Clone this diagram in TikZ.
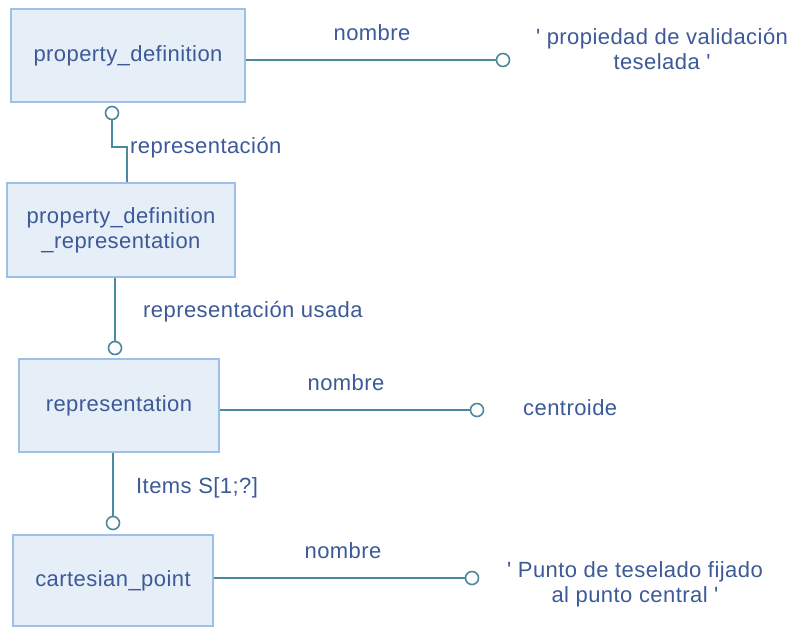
\documentclass[tikz,border=0pt]{standalone}
\usepackage{fontspec}
\setmainfont{Liberation Sans}[LetterSpace=2]
\definecolor{boxfill}{RGB}{230,238,248}
\definecolor{boxline}{RGB}{156,192,232}
\definecolor{conn}{RGB}{74,138,156}
\definecolor{txt}{RGB}{60,90,152}
\begin{document}
\begin{tikzpicture}[x=1pt,y=-1pt,
  every node/.style={font=\fontsize{22}{25}\selectfont, text=txt, inner sep=0pt},
  entity/.style={draw=boxline, fill=boxfill, line width=1.8pt, align=center},
  ring/.style={circle, draw=conn, fill=white, line width=1.6pt, minimum size=13pt},
  link/.style={draw=conn, line width=2pt},
  lbl/.style={anchor=west},
  val/.style={align=center}]
\fill[white] (0,0) rectangle (800,628);
\useasboundingbox (0,0) rectangle (800,628);

\node[entity, minimum width=234pt, minimum height=93pt] (pd) at (128,55.5) {property\_definition};
\node[entity, minimum width=228pt, minimum height=94pt] (pdr) at (121,230) {property\_definition\\\_representation};
\node[entity, minimum width=200pt, minimum height=93pt] (rep) at (119,405.5) {representation};
\node[entity, minimum width=200pt, minimum height=91pt] (cp) at (113,580.5) {cartesian\_point};

\node[ring] (c1) at (112,113) {};
\node[ring] (c2) at (115,348) {};
\node[ring] (c3) at (113,523) {};
\node[ring] (c4) at (503,60) {};
\node[ring] (c5) at (477,410) {};
\node[ring] (c6) at (472,578) {};

\coordinate (k1) at (112,147);
\coordinate (k2) at (127,147);
\draw[link] (c1.south) -- (k1) -- (k2) -- (k2 |- pdr.north);
\draw[link] (pdr.south -| c2) -- (c2.north);
\draw[link] (rep.south -| c3) -- (c3.north);
\draw[link] (pd.east |- c4) -- (c4.west);
\draw[link] (rep.east |- c5) -- (c5.west);
\draw[link] (cp.east |- c6) -- (c6.west);

\node (n1) at (372,33) {nombre};
\node (n2) at (346,383) {nombre};
\node (n3) at (343,551) {nombre};
\node[lbl] (l1) at (130,148) {representación};
\node[lbl] (l2) at (143,312) {representación usada};
\node[lbl] (l3) at (136,488) {Items S[1;?]};

\node[val] (v1) at (662,49) {\textquotesingle\ propiedad de validación\\teselada \textquotesingle};
\node[lbl] (v2) at (523,408) {centroide};
\node[val] (v3) at (635,584) {\textquotesingle\ Punto de teselado fijado\\al punto central \textquotesingle};
\end{tikzpicture}
\end{document}
